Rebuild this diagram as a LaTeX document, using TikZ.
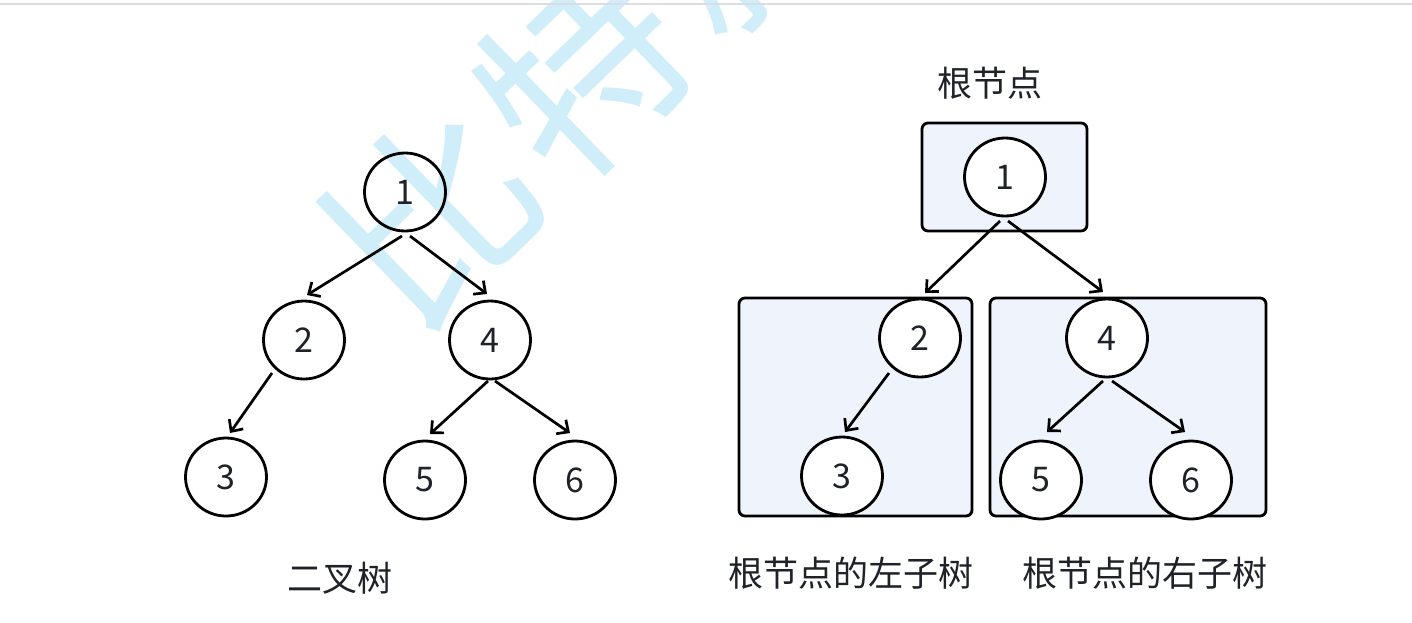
\documentclass[tikz,border=0pt]{standalone}
\usepackage{fontspec}
\setmainfont{Noto Sans CJK SC}
\usetikzlibrary{arrows.meta,shapes.geometric,calc}
\definecolor{txt}{HTML}{1F2329}
\definecolor{boxfill}{HTML}{EEF3FC}
\definecolor{wm}{HTML}{D0EEFA}
\definecolor{topline}{HTML}{DCDCE4}
\tikzset{
  tnode/.style={ellipse, draw=black, line width=1.4pt, fill=white, minimum width=40.5pt, minimum height=39pt, inner sep=0pt, outer sep=0pt, text=txt, font=\fontsize{17}{20}\selectfont},
  subbox/.style={draw=black, line width=1.4pt, fill=boxfill, rounded corners=3pt, inner sep=0pt, outer sep=0pt},
  arr/.style={-{Straight Barb[length=4.5pt,width=8.5pt]}, line width=1.35pt, draw=black},
  lbl/.style={text=txt, font=\fontsize{17.5}{21}\selectfont, inner sep=0pt},
  wmark/.style={text=wm, font=\fontsize{100}{110}\selectfont, rotate=44, inner sep=0pt}
}
\begin{document}
\begin{tikzpicture}[x=0.5pt,y=-0.5pt]
\useasboundingbox (0,0) rectangle (1412,622);
\begin{scope}
\clip (0,0) rectangle (1412,622);
\fill[white] (0,0) rectangle (1412,622);
\node[wmark] (w1) at (431,215) {比};
\node[wmark] (w2) at (583,70) {特};
\node[wmark] (w3) at (735,-75) {就};
\end{scope}
\draw[topline, line width=1pt] (0,4) -- (1412,4);

% left tree
\node[tnode, fill=none] (a1) at (405,192) {1};
\node[tnode, fill=none] (a2) at (304,340) {2};
\node[tnode, fill=none] (a4) at (490,340) {4};
\node[tnode, fill=none] (a3) at (226,477) {3};
\node[tnode, fill=none] (a5) at (425,480) {5};
\node[tnode, fill=none] (a6) at (575,480) {6};
\draw[arr] ($(a1)+(-3,44)$) -- ($(a2)+(3,-45)$);
\draw[arr] ($(a1)+(5,44)$) -- ($(a4)+(-3,-46)$);
\draw[arr] ($(a2)+(-32,33)$) -- ($(a3)+(4,-44)$);
\draw[arr] ($(a4)+(-2,41)$) -- ($(a5)+(5,-46)$);
\draw[arr] ($(a4)+(5,41)$) -- ($(a6)+(-5,-47)$);
\node[lbl] (l1) at (340,578) {二叉树};

% right side
\node[lbl] (l2) at (990,83) {根节点};
\node[subbox, minimum width=82.5pt, minimum height=54pt] (b1) at (1004.5,177) {};
\node[subbox, minimum width=116.5pt, minimum height=109pt] (b2) at (855.5,407) {};
\node[subbox, minimum width=138pt, minimum height=109pt] (b3) at (1128,407) {};
\node[tnode] (r1) at (1005,177) {1};
\node[tnode] (r2) at (920,338) {2};
\node[tnode] (r3) at (842,476) {3};
\node[tnode] (r4) at (1107,338) {4};
\node[tnode] (r5) at (1041,480) {5};
\node[tnode] (r6) at (1191,480) {6};
\draw[arr] ($(r1)+(-5,44)$) -- ($(r2)+(5,-45)$);
\draw[arr] ($(r1)+(3,44)$) -- ($(r4)+(-4,-46)$);
\draw[arr] ($(r2)+(-31,35)$) -- ($(r3)+(3,-44)$);
\draw[arr] ($(r4)+(-4,43)$) -- ($(r5)+(6,-48)$);
\draw[arr] ($(r4)+(5,43)$) -- ($(r6)+(-6,-48)$);
\node[lbl] (l3) at (851,573) {根节点的左子树};
\node[lbl] (l4) at (1145,573) {根节点的右子树};
\end{tikzpicture}
\end{document}
